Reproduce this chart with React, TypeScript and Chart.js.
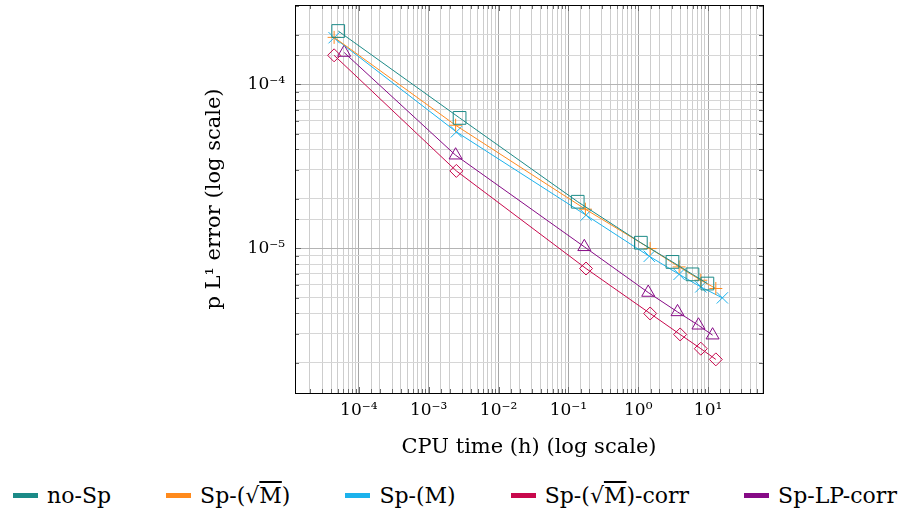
import React, { useEffect, useRef } from "react";
import { Chart, registerables } from "chart.js";

Chart.register(...registerables);

// ---- data ----
const seriesNames = ["no-Sp", "Sp-(√M)", "Sp-(M)", "Sp-(√M)-corr", "Sp-LP-corr"];
const seriesColors = ["#1b8a87", "#ff8a1c", "#1cb2ec", "#c8084c", "#860a86"];
const seriesMarkers = ["rect", "cross", "crossRot", "rectRot", "triangle"];
const markerRadius = [9, 6.5, 8, 6.5, 7.5];

const cpuNoSp = [5.07e-5, 2.77e-3, 0.136, 1.09, 3.09, 5.97, 9.77];
const errNoSp = [2.11e-4, 6.23e-5, 1.92e-5, 1.08e-5, 8.25e-6, 6.93e-6, 6.09e-6];

const cpuSqrtM = [4.43e-5, 2.43e-3, 0.175, 1.48, 3.85, 7.86, 12.9];
const errSqrtM = [1.93e-4, 5.62e-5, 1.73e-5, 9.95e-6, 7.69e-6, 6.38e-6, 5.68e-6];

const cpuM = [4.43e-5, 2.49e-3, 0.179, 1.44, 3.85, 7.86, 16.0];
const errM = [1.92e-4, 5.12e-5, 1.59e-5, 8.93e-6, 6.93e-6, 5.81e-6, 4.98e-6];

const cpuSqrtMCorr = [4.43e-5, 2.49e-3, 0.179, 1.48, 3.98, 7.86, 12.9];
const errSqrtMCorr = [1.5e-4, 2.96e-5, 7.52e-6, 4.0e-6, 2.98e-6, 2.44e-6, 2.1e-6];

const cpuLP = [6.17e-5, 2.43e-3, 0.169, 1.39, 3.65, 7.28, 11.6];
const errLP = [1.56e-4, 3.69e-5, 1.02e-5, 5.37e-6, 4.09e-6, 3.39e-6, 2.95e-6];

const seriesX = [cpuNoSp, cpuSqrtM, cpuM, cpuSqrtMCorr, cpuLP];
const seriesY = [errNoSp, errSqrtM, errM, errSqrtMCorr, errLP];

const xMin = 1.22e-5;
const xMax = 61.1;
const yMin = 1.31e-6;
const yMax = 3.04e-4;

const xTitle = "CPU time (h) (log scale)";
const yTitle = "p L¹ error (log scale)";

const SUP: Record<string, string> = {
  "-": "⁻", "0": "⁰", "1": "¹", "2": "²", "3": "³", "4": "⁴",
  "5": "⁵", "6": "⁶", "7": "⁷", "8": "⁸", "9": "⁹",
};

function isPow10(v: number) {
  const l = Math.log10(v);
  return Math.abs(l - Math.round(l)) < 1e-6;
}
function powLabel(v: number) {
  if (!isPow10(v)) return "";
  const e = String(Math.round(Math.log10(v)));
  return "10" + e.split("").map((c) => SUP[c] || c).join("");
}

const SERIF = "'DejaVu Serif', serif";

const frame = {
  id: "frame",
  beforeDatasetsDraw(chart: any) {
    const { ctx, chartArea: a, scales } = chart;
    ctx.save();
    ctx.strokeStyle = "#6a6a6a";
    ctx.lineWidth = 1;
    ctx.beginPath();
    const xs = scales.x;
    for (const t of xs.ticks) {
      const px = Math.round(xs.getPixelForValue(t.value)) + 0.5;
      if (px < a.left + 1 || px > a.right - 1) continue;
      const len = isPow10(t.value) ? 6 : 4;
      ctx.moveTo(px, a.bottom);
      ctx.lineTo(px, a.bottom - len);
      ctx.moveTo(px, a.top);
      ctx.lineTo(px, a.top + len);
    }
    const ys = scales.y;
    for (const t of ys.ticks) {
      const py = Math.round(ys.getPixelForValue(t.value)) + 0.5;
      if (py < a.top + 1 || py > a.bottom - 1) continue;
      const len = isPow10(t.value) ? 6 : 4;
      ctx.moveTo(a.left, py);
      ctx.lineTo(a.left + len, py);
      ctx.moveTo(a.right, py);
      ctx.lineTo(a.right - len, py);
    }
    ctx.stroke();
    ctx.strokeStyle = "#000";
    ctx.lineWidth = 1;
    ctx.strokeRect(
      Math.round(a.left) + 0.5,
      Math.round(a.top) + 0.5,
      Math.round(a.right - a.left),
      Math.round(a.bottom - a.top)
    );
    ctx.restore();
  },
};

function LegendLabel({ text }: { text: string }) {
  const parts = text.split("√M");
  const out: any[] = [];
  parts.forEach((p, i) => {
    out.push(<span key={"p" + i}>{p}</span>);
    if (i < parts.length - 1)
      out.push(
        <span key={"r" + i}>
          √<span style={{ textDecoration: "overline" }}>M</span>
        </span>
      );
  });
  return <span>{out}</span>;
}

export default function App() {
  const ref = useRef<HTMLCanvasElement>(null);

  useEffect(() => {
    if (!ref.current) return;
    const datasets = seriesNames.map((name, i) => ({
      label: name,
      data: seriesX[i].map((x, j) => ({ x, y: seriesY[i][j] })),
      borderColor: seriesColors[i],
      backgroundColor: "rgba(0,0,0,0)",
      borderWidth: 1,
      pointStyle: seriesMarkers[i] as any,
      pointRadius: markerRadius[i],
      pointBorderWidth: 1,
      pointBorderColor: seriesColors[i],
      pointBackgroundColor: "rgba(0,0,0,0)",
      tension: 0,
      fill: false,
      clip: false as any,
    }));
    const chart = new Chart(ref.current, {
      type: "line",
      data: { datasets },
      plugins: [frame],
      options: {
        animation: false,
        responsive: false,
        maintainAspectRatio: false,
        layout: { autoPadding: false, padding: { top: 5, right: 147, left: 0, bottom: 0 } } as any,
        plugins: {
          legend: { display: false },
          tooltip: { enabled: false },
        },
        scales: {
          x: {
            type: "logarithmic",
            min: xMin,
            max: xMax,
            afterFit: (s: any) => {
              s.height = 77;
              s.paddingLeft = 0;
              s.paddingRight = 0;
            },
            border: { display: false },
            grid: {
              drawTicks: false,
              color: (c: any) => (c.tick && isPow10(c.tick.value) ? "#a6a6a6" : "#cdcdcd"),
              lineWidth: 1,
            },
            ticks: {
              autoSkip: false,
              maxRotation: 0,
              padding: 7,
              color: "#000",
              font: { family: SERIF, size: 17 },
              callback: (v: any) => powLabel(Number(v)),
            },
            title: {
              display: true,
              text: xTitle,
              color: "#000",
              font: { family: SERIF, size: 21 },
              padding: { top: 0, bottom: 10 },
            },
          },
          y: {
            type: "logarithmic",
            min: yMin,
            max: yMax,
            afterFit: (s: any) => {
              s.width = 295;
              s.paddingTop = 0;
              s.paddingBottom = 0;
            },
            border: { display: false },
            grid: {
              drawTicks: false,
              color: (c: any) => (c.tick && isPow10(c.tick.value) ? "#b4b4b4" : "#d6d6d6"),
              lineWidth: 1,
            },
            ticks: {
              autoSkip: false,
              padding: 10,
              color: "#000",
              font: { family: SERIF, size: 17, lineHeight: 0.4 },
              callback: (v: any) => powLabel(Number(v)),
            },
            title: {
              display: true,
              text: yTitle,
              color: "#000",
              font: { family: SERIF, size: 21 },
              padding: { top: 202, bottom: 0 },
            },
          },
        },
      },
    });
    return () => chart.destroy();
  }, []);

  return (
    <div
      style={{
        position: "absolute",
        left: 0,
        top: 0,
        width: 910,
        height: 513,
        background: "#fff",
        overflow: "hidden",
      }}
    >
      <canvas ref={ref} width={910} height={470} style={{ display: "block", width: 910, height: 470 }} />
      <div
        style={{
          position: "absolute",
          left: 0,
          top: 479,
          width: 910,
          height: 32,
          display: "flex",
          justifyContent: "center",
          alignItems: "center",
          gap: 55,
          fontFamily: SERIF,
          fontSize: 22,
          color: "#000",
          whiteSpace: "nowrap",
        }}
      >
        {seriesNames.map((n, i) => (
          <div key={n} style={{ display: "flex", alignItems: "center" }}>
            <span
              style={{
                display: "inline-block",
                width: 25,
                height: 5,
                background: seriesColors[i],
                marginRight: 9,
              }}
            />
            <LegendLabel text={n} />
          </div>
        ))}
      </div>
    </div>
  );
}
